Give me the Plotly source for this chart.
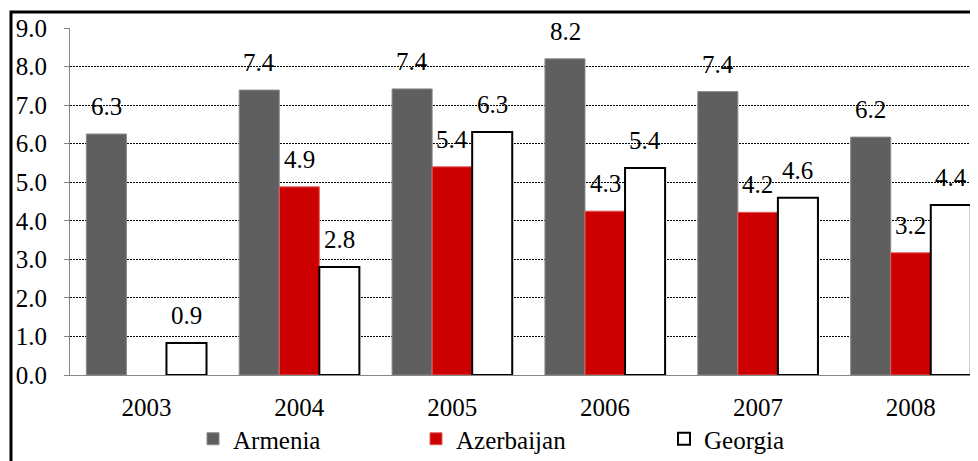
import plotly.graph_objects as go

years = ["2003", "2004", "2005", "2006", "2007", "2008"]
armenia = [6.25, 7.39, 7.42, 8.2, 7.35, 6.17]
azerbaijan = [None, 4.88, 5.4, 4.25, 4.22, 3.17]
georgia = [0.83, 2.8, 6.3, 5.37, 4.6, 4.41]
armenia_labels = ["6.3", "7.4", "7.4", "8.2", "7.4", "6.2"]
azerbaijan_labels = ["", "4.9", "5.4", "4.3", "4.2", "3.2"]
georgia_labels = ["0.9", "2.8", "6.3", "5.4", "4.6", "4.4"]
y_ticks = [0, 1, 2, 3, 4, 5, 6, 7, 8, 9]

FS = 25

# page body has an 8px default margin: figure is sized / placed to compensate
W, H = 970, 453
ML, MT, MB = 62, 20, 86
PW, PH = W - ML, H - MT - MB


def F(size=FS):
    return dict(family="Liberation Serif", size=size, color="black")


fig = go.Figure()
fig.add_trace(go.Bar(name="Armenia", x=years, y=armenia, legend="legend",
                     marker=dict(color="#5f5f5f", line=dict(color="#8a8a8a", width=1))))
fig.add_trace(go.Bar(name="Azerbaijan", x=years, y=azerbaijan, legend="legend2",
                     marker=dict(color="#cc0000", line=dict(color="#e06060", width=1))))
fig.add_trace(go.Bar(name="Georgia", x=years, y=georgia, legend="legend3",
                     marker=dict(color="#ffffff", line=dict(color="#000000", width=2))))

series = [(armenia, armenia_labels, -40), (azerbaijan, azerbaijan_labels, 0), (georgia, georgia_labels, 40)]
for vals, labs, dx in series:
    for j, (v, lab) in enumerate(zip(vals, labs)):
        if v is None or not lab:
            continue
        fig.add_annotation(x=j, y=v, text=lab, showarrow=False,
                           xshift=dx, yanchor="bottom", yshift=12, font=F())


def leg(px):
    return dict(orientation="h", x=(px - 70) / PW, xanchor="left",
                y=(375 - 439) / PH, yanchor="middle",
                font=F(), bgcolor="rgba(0,0,0,0)", itemclick=False)


fig.update_layout(
    width=W, height=H,
    margin=dict(l=ML, r=0, t=MT, b=MB, autoexpand=False),
    paper_bgcolor="white", plot_bgcolor="white",
    font=F(),
    barmode="group", bargap=0.214, bargroupgap=0,
    showlegend=True,
    legend=leg(193), legend2=leg(416), legend3=leg(664),
)
fig.add_shape(type="rect", xref="paper", yref="paper",
              x0=(11 - 70) / PW, x1=1.1, y0=-1.0, y1=(375 - 12) / PH,
              line=dict(color="black", width=3), fillcolor="rgba(0,0,0,0)", layer="above")
fig.update_xaxes(type="category", range=[-0.5, 5.44], showline=True, linecolor="#868686",
                 linewidth=1, ticks="", showgrid=False, ticklabelstandoff=10, tickfont=F())
fig.update_yaxes(range=[0, 9], tickvals=y_ticks, tickformat=".1f", showline=True,
                 linecolor="#868686", linewidth=1, ticks="outside", ticklen=5, tickcolor="#868686",
                 showgrid=True, gridcolor="black", gridwidth=1, griddash="2px,1px",
                 zeroline=False, ticklabelstandoff=12, tickfont=F())

fig.write_html("out.html")
